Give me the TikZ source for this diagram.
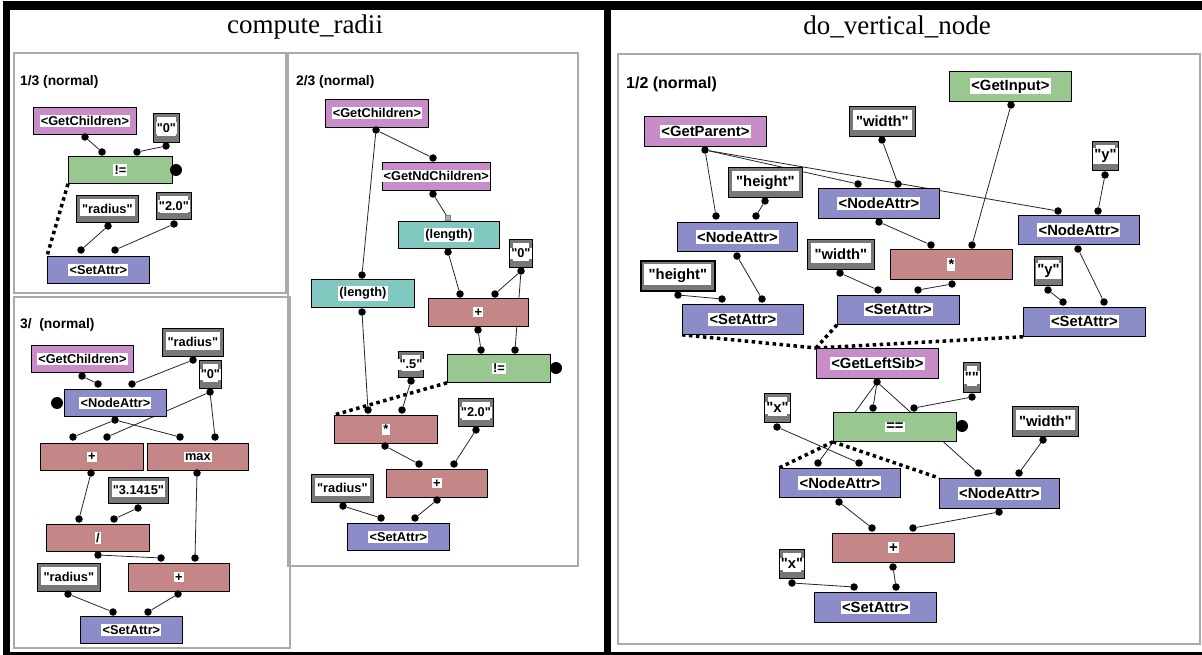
\documentclass[tikz,border=0pt]{standalone}
\usepackage{fontspec}
\setmainfont{Liberation Sans}
\newfontfamily\bxf{Liberation Sans}
\newfontfamily\ttlfont{Liberation Serif}
\definecolor{cpink}{RGB}{200,140,200}
\definecolor{cblue}{RGB}{140,140,200}
\definecolor{cgreen}{RGB}{152,200,144}
\definecolor{cred}{RGB}{196,134,134}
\definecolor{cteal}{RGB}{128,200,192}
\definecolor{cgray}{RGB}{120,120,120}
\definecolor{cpanel}{RGB}{170,170,170}
\pgfdeclarelayer{bg}
\pgfdeclarelayer{edges}
\pgfsetlayers{bg,edges,main}
\newcommand\lbl[1]{{\setlength{\fboxsep}{1.2pt}\colorbox{white}{#1}}}
\newcommand\bx[7]{\node[#1, minimum width=#5pt, minimum height=#6pt] (#2) at (#3,#4) {\lbl{#7}};}
\newcommand\dt[3]{\node[dot] (#1) at (#2,#3) {};}
\begin{document}
\begin{tikzpicture}[x=1pt,y=-1pt,
  box/.style={draw=black, line width=0.8pt, rectangle, anchor=north west, inner sep=0pt,
    font=\bxf\bfseries\fontsize{12.8}{14}\selectfont},
  pinkbox/.style={box, fill=cpink},
  bluebox/.style={box, fill=cblue},
  greenbox/.style={box, fill=cgreen},
  redbox/.style={box, fill=cred},
  tealbox/.style={box, fill=cteal},
  cbox/.style={box, fill=cgray, path picture={\fill[white]
    ([xshift=3.5pt,yshift=-3.5pt]path picture bounding box.north west) rectangle
    ([xshift=-3.5pt,yshift=6pt]path picture bounding box.south east);}},
  dot/.style={circle, fill=black, inner sep=0pt, minimum size=7.5pt},
  bigdot/.style={circle, fill=black, inner sep=0pt, minimum size=12pt},
  sqmark/.style={rectangle, fill=gray!60, draw=gray, line width=0.4pt, inner sep=0pt, minimum size=5pt},
  wire/.style={draw=black!85, line width=0.8pt},
  ctrl/.style={draw=black, line width=3.5pt, dash pattern=on 3.5pt off 3.5pt},
  panel/.style={draw=cpanel, line width=1.5pt},
  lab/.style={anchor=west, inner sep=0pt, font=\bxf\bfseries\fontsize{13.8}{15}\selectfont},
  ttl/.style={inner sep=0pt, font=\ttlfont\fontsize{27}{30}\selectfont}
]
\useasboundingbox (0,0) rectangle (1202,655);
\begin{pgfonlayer}{bg}
\fill[white] (0,0) rectangle (1202,655);
\end{pgfonlayer}

% frame
\fill[black] (3,1) rectangle (1202,10);
\fill[black] (3,1) rectangle (10,655);
\fill[black] (3,652) rectangle (1202,655);
\fill[black] (604,1) rectangle (611,655);

% panels
\draw[panel] (14,53) rectangle (286,293);
\draw[panel] (14,297) rectangle (290,648);
\draw[panel] (288,53) rectangle (578,566);
\draw[panel] (618,54) rectangle (1200,644);

% titles
\node[ttl] (t1) at (305,27) {compute\_radii};
\node[ttl] (t2) at (897,27) {do\_vertical\_node};

% ---------- panel 1/3 ----------
\node[lab] (lab1) at (20,82) {1/3 (normal)};
\bx{pinkbox}{gc1}{33}{107}{103}{27}{<GetChildren>}
\bx{cbox}{k0a}{153}{113}{26}{29}{"0"}
\bx{greenbox}{ne1}{68}{156}{104}{27}{!=}
\bx{cbox}{kra}{76}{195}{62}{27}{"radius"}
\bx{cbox}{k20a}{156}{192}{35}{27}{"2.0"}
\bx{bluebox}{sa1}{47}{256}{102}{27}{<SetAttr>}
\node[bigdot] (ne1b) at (176,170) {};
\dt{gc1o}{85}{137} \dt{ne1i1}{102}{152} \dt{ne1i2}{137}{152} \dt{k0ao}{166}{146}
\dt{krao}{108}{226} \dt{k20ao}{174}{224} \dt{sa1i1}{81}{250} \dt{sa1i2}{115}{250}

% ---------- panel 3/ ----------
\node[lab] (lab3) at (20,325) {3/\ \ (normal)};
\bx{pinkbox}{gc3}{31}{345}{102}{27}{<GetChildren>}
\bx{cbox}{kr3}{162}{328}{61}{28}{"radius"}
\bx{cbox}{k03}{199}{360}{22}{28}{"0"}
\bx{bluebox}{na3}{64}{389}{102}{27}{<NodeAttr>}
\bx{redbox}{pl3}{40}{443}{103}{27}{+}
\bx{redbox}{mx3}{147}{443}{101}{27}{max}
\bx{cbox}{kpi}{108}{477}{60}{26}{"3.1415"}
\bx{redbox}{dv3}{46}{524}{103}{27}{/}
\bx{cbox}{kr3b}{37}{563}{63}{28}{"radius"}
\bx{redbox}{pl3b}{128}{563}{101}{28}{+}
\bx{bluebox}{sa3}{80}{616}{102}{27}{<SetAttr>}
\node[bigdot] (na3b) at (57,403) {};
\dt{gc3o}{82}{376} \dt{na3i1}{98}{384} \dt{na3i2}{132}{384} \dt{kr3o}{193}{360}
\dt{k03o}{210}{392} \dt{na3o}{115}{420} \dt{pl3i1}{73}{437} \dt{pl3i2}{107}{437}
\dt{mx3i1}{180}{437} \dt{mx3i2}{215}{437} \dt{pl3o}{91}{473} \dt{mx3o}{197}{473}
\dt{kpio}{138}{508} \dt{dv3i1}{79}{519} \dt{dv3i2}{114}{519} \dt{dv3o}{98}{555}
\dt{pl3bi1}{161}{558} \dt{pl3bi2}{195}{558} \dt{kr3bo}{68}{594} \dt{pl3bo}{178}{594}
\dt{sa3i1}{113}{612} \dt{sa3i2}{148}{612}

% ---------- panel 2/3 ----------
\node[lab] (lab2) at (296,82) {2/3 (normal)};
\bx{pinkbox}{gc2}{325}{99}{103}{28}{<GetChildren>}
\bx{pinkbox}{gnd}{382}{162}{103}{28}{<GetNdChildren>}
\bx{tealbox}{lnr}{398}{221}{101}{27}{(length)}
\bx{cbox}{k02}{509}{239}{23}{28}{"0"}
\bx{tealbox}{lnl}{311}{279}{103}{28}{(length)}
\bx{redbox}{pl2}{428}{298}{100}{28}{+}
\bx{greenbox}{ne2}{447}{354}{103}{28}{!=}
\bx{cbox}{k5}{398}{351}{25}{26}{".5"}
\bx{redbox}{ml2}{334}{415}{103}{28}{*}
\bx{cbox}{k202}{458}{398}{35}{28}{"2.0"}
\bx{redbox}{pl2b}{386}{469}{101}{28}{+}
\bx{cbox}{kr2}{311}{474}{62}{28}{"radius"}
\bx{bluebox}{sa2}{347}{523}{102}{27}{<SetAttr>}
\node[bigdot] (ne2b) at (556,368) {};
\node[sqmark] (lnri) at (448,218) {};
\dt{gc2o}{376}{130} \dt{gndi}{433}{158} \dt{gndo}{433}{194} \dt{lnro}{448}{252}
\dt{k02o}{521}{271} \dt{lnli}{362}{275} \dt{lnlo}{362}{312} \dt{pl2i1}{460}{294}
\dt{pl2i2}{495}{294} \dt{pl2o}{478}{330} \dt{ne2i1}{481}{350} \dt{ne2i2}{515}{350}
\dt{k5o}{411}{381} \dt{ml2i1}{368}{410} \dt{ml2i2}{402}{410} \dt{ml2o}{385}{446}
\dt{k202o}{476}{430} \dt{pl2bi1}{419}{464} \dt{pl2bi2}{454}{464} \dt{pl2bo}{437}{500}
\dt{kr2o}{343}{506} \dt{sa2i1}{381}{518} \dt{sa2i2}{415}{518}

% ---------- right panel 1/2 ----------
\begin{scope}[box/.append style={font=\bxf\bfseries\fontsize{14.8}{16}\selectfont},
  lab/.append style={font=\bxf\bfseries\fontsize{16}{18}\selectfont}]
\node[lab] (lab4) at (626,84) {1/2 (normal)};
\bx{pinkbox}{gp}{644}{116}{122}{30}{<GetParent>}
\bx{cbox}{kw1}{849}{106}{66}{30}{"width"}
\bx{greenbox}{gi}{949}{71}{122}{30}{<GetInput>}
\bx{cbox}{kh1}{728}{167}{74}{30}{"height"}
\bx{bluebox}{nam}{818}{188}{121}{30}{<NodeAttr>}
\bx{cbox}{ky1}{1092}{141}{26}{29}{"y"}
\bx{bluebox}{nal}{677}{222}{120}{29}{<NodeAttr>}
\bx{bluebox}{nar}{1018}{215}{121}{29}{<NodeAttr>}
\bx{cbox, line width=1.8pt}{kh2}{640}{260}{74}{30}{"height"}
\bx{cbox}{kw2}{807}{239}{67}{30}{"width"}
\bx{redbox}{mr}{890}{249}{122}{30}{*}
\bx{cbox}{ky2}{1034}{256}{28}{29}{"y"}
\bx{bluebox}{sal}{682}{304}{121}{30}{<SetAttr>}
\bx{bluebox}{sam}{837}{295}{122}{29}{<SetAttr>}
\bx{bluebox}{sar}{1023}{307}{122}{29}{<SetAttr>}
\bx{pinkbox}{gls}{816}{348}{122}{30}{<GetLeftSib>}
\bx{cbox}{kes}{963}{362}{17}{30}{""}
\bx{cbox}{kx1}{764}{393}{26}{29}{"x"}
\bx{greenbox}{eq}{833}{412}{123}{29}{==}
\bx{cbox}{kw3}{1012}{406}{66}{30}{"width"}
\bx{bluebox}{nal2}{779}{468}{121}{29}{<NodeAttr>}
\bx{bluebox}{nar2}{939}{478}{120}{30}{<NodeAttr>}
\bx{redbox}{pr}{832}{533}{122}{29}{+}
\bx{cbox}{kx2}{779}{549}{25}{29}{"x"}
\bx{bluebox}{sab}{814}{592}{122}{30}{<SetAttr>}
\end{scope}
\node[bigdot] (eqb) at (962,426) {};
\dt{gpo}{705}{150} \dt{kw1o}{882}{140} \dt{gio}{1011}{105} \dt{kh1o}{765}{201}
\dt{nami1}{858}{184} \dt{nami2}{898}{184} \dt{namo}{879}{222} \dt{ky1o}{1105}{175}
\dt{nali1}{716}{216} \dt{nali2}{756}{216} \dt{nalo}{737}{256} \dt{nari1}{1058}{211}
\dt{nari2}{1098}{211} \dt{naro}{1078}{249} \dt{kh2o}{678}{295} \dt{kw2o}{840}{273}
\dt{mri1}{931}{245} \dt{mri2}{972}{245} \dt{mro}{952}{284} \dt{ky2o}{1048}{290}
\dt{sali1}{722}{299} \dt{sali2}{762}{299} \dt{sami1}{878}{290} \dt{sami2}{918}{290}
\dt{sari1}{1063}{302} \dt{sari2}{1104}{302} \dt{glso}{877}{382} \dt{keso}{972}{397}
\dt{kx1o}{777}{427} \dt{eqi1}{873}{408} \dt{eqi2}{914}{408} \dt{kw3o}{1043}{440}
\dt{nal2i1}{818}{463} \dt{nal2i2}{859}{463} \dt{nal2o}{839}{502} \dt{nar2i1}{978}{473}
\dt{nar2i2}{1019}{473} \dt{nar2o}{999}{512} \dt{pri1}{872}{528} \dt{pri2}{913}{528}
\dt{pro}{893}{567} \dt{kx2o}{792}{583} \dt{sabi1}{854}{587} \dt{sabi2}{896}{587}

% ---------- connectors ----------
\begin{pgfonlayer}{edges}
\foreach \a/\b in {gc1o/ne1i1, k0ao/ne1i2, krao/sa1i1, k20ao/sa1i2,
  gc3o/na3i1, kr3o/na3i2, na3o/pl3i1, na3o/mx3i1, k03o/pl3i2, k03o/mx3i2,
  pl3o/dv3i1, kpio/dv3i2, dv3o/pl3bi1, mx3o/pl3bi2, kr3bo/sa3i1, pl3bo/sa3i2,
  gc2o/gndi, gc2o/lnli, gndo/lnri, lnro/pl2i1, k02o/pl2i2, k02o/ne2i2, pl2o/ne2i1,
  lnlo/ml2i1, k5o/ml2i2, ml2o/pl2bi1, k202o/pl2bi2, kr2o/sa2i1, pl2bo/sa2i2,
  gpo/nali1, gpo/nami1, gpo/nari1, kw1o/nami2, kh1o/nali2, ky1o/nari2,
  namo/mri1, gio/mri2, nalo/sali2, kh2o/sali1, kw2o/sami1, mro/sami2,
  naro/sari2, ky2o/sari1, glso/eqi1, keso/eqi2, glso/nal2i1, glso/nar2i1,
  kx1o/nal2i2, kw3o/nar2i2, nal2o/pri1, nar2o/pri2, kx2o/sabi1, pro/sabi2}
  \draw[wire] (\a) -- (\b);
\draw[ctrl] (ne1.south west) -- (sa1.north west);
\draw[ctrl] (ne2.south west) -- (ml2.north west);
\draw[ctrl] (sal.south west) -- (gls.north west);
\draw[ctrl] (sam.south west) -- (gls.north west);
\draw[ctrl] (sar.south west) -- (gls.north west);
\draw[ctrl] (eq.south west) -- (nal2.north west);
\draw[ctrl] (eq.south west) -- (nar2.north west);
\end{pgfonlayer}
\end{tikzpicture}
\end{document}
